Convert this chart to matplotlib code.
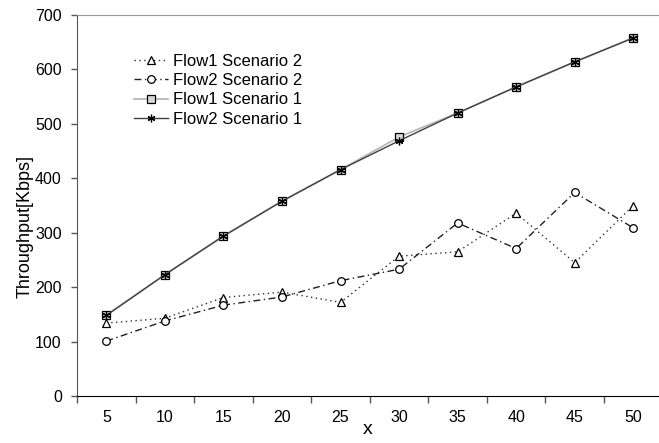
import matplotlib
matplotlib.use("Agg")
import matplotlib.pyplot as plt
import numpy as np
from matplotlib.ticker import FixedLocator, NullFormatter, FixedFormatter

plt.rcParams['font.family'] = ['Liberation Sans', 'DejaVu Sans']

categories = ["5", "10", "15", "20", "25", "30", "35", "40", "45", "50"]
flow1_s2 = [134, 143, 181, 191, 172, 257, 265, 336, 245, 350]
flow2_s2 = [101, 138, 167, 182, 212, 233, 318, 271, 374, 309]
flow1_s1 = [149, 223, 294, 358, 416, 476, 520, 568, 614, 658]
flow2_s1 = [148, 223, 294, 358, 416, 469, 520, 568, 614, 658]

fig = plt.figure(figsize=(6.59, 4.43), dpi=100)
ax = fig.add_axes([0.117, 0.106, 0.883, 0.860])

x = np.arange(len(categories)) + 0.5
ms = 5.5
ax.plot(x, flow1_s2, linestyle=(0, (1, 2.5)), color='#303030', lw=1.0,
        marker='^', ms=ms, mfc='white', mec='black', mew=0.9, label='Flow1 Scenario 2')
ax.plot(x, flow2_s2, linestyle=(0, (5, 2.5, 1, 2.5)), color='#202020', lw=1.0,
        marker='o', ms=ms, mfc='white', mec='black', mew=0.9, label='Flow2 Scenario 2')
ax.plot(x, flow1_s1, linestyle='-', color='#b8b8b8', lw=1.3,
        marker='s', ms=ms, mfc='#d8d8d8', mec='black', mew=0.9, label='Flow1 Scenario 1')
ax.plot(x, flow2_s1, linestyle='-', color='#404040', lw=1.0,
        marker=(6, 2, 0), ms=ms, mfc='black', mec='black', mew=0.9, label='Flow2 Scenario 1')

ax.set_xlim(0, 9.94)
ax.set_ylim(0, 700)
ax.set_yticks(np.arange(0, 701, 100))

ax.xaxis.set_major_locator(FixedLocator(np.arange(0, 11)))
ax.xaxis.set_major_formatter(NullFormatter())
ax.xaxis.set_minor_locator(FixedLocator(x))
ax.xaxis.set_minor_formatter(FixedFormatter(categories))
ax.tick_params(axis='x', which='major', direction='out', length=5, width=1, color='#555555')
ax.tick_params(axis='x', which='minor', length=0, labelsize=11.5, pad=10)
ax.tick_params(axis='y', direction='out', length=4, width=1, color='#555555',
               labelsize=11.5, pad=7)

ax.spines['right'].set_visible(False)
ax.spines['top'].set_color('#999999')
ax.spines['left'].set_color('#555555')
ax.spines['bottom'].set_color('black')

ax.set_xlabel('x', fontsize=14, labelpad=-3)
ax.set_ylabel('Throughput[Kbps]', fontsize=13)
ax.yaxis.set_label_coords(-0.074, 0.444)

leg = ax.legend(loc='upper left', bbox_to_anchor=(0.087, 0.915), frameon=False,
                fontsize=12, handlelength=2.0, handletextpad=0.3, labelspacing=0.25,
                borderaxespad=0)

fig.savefig('out.png', dpi=100)
